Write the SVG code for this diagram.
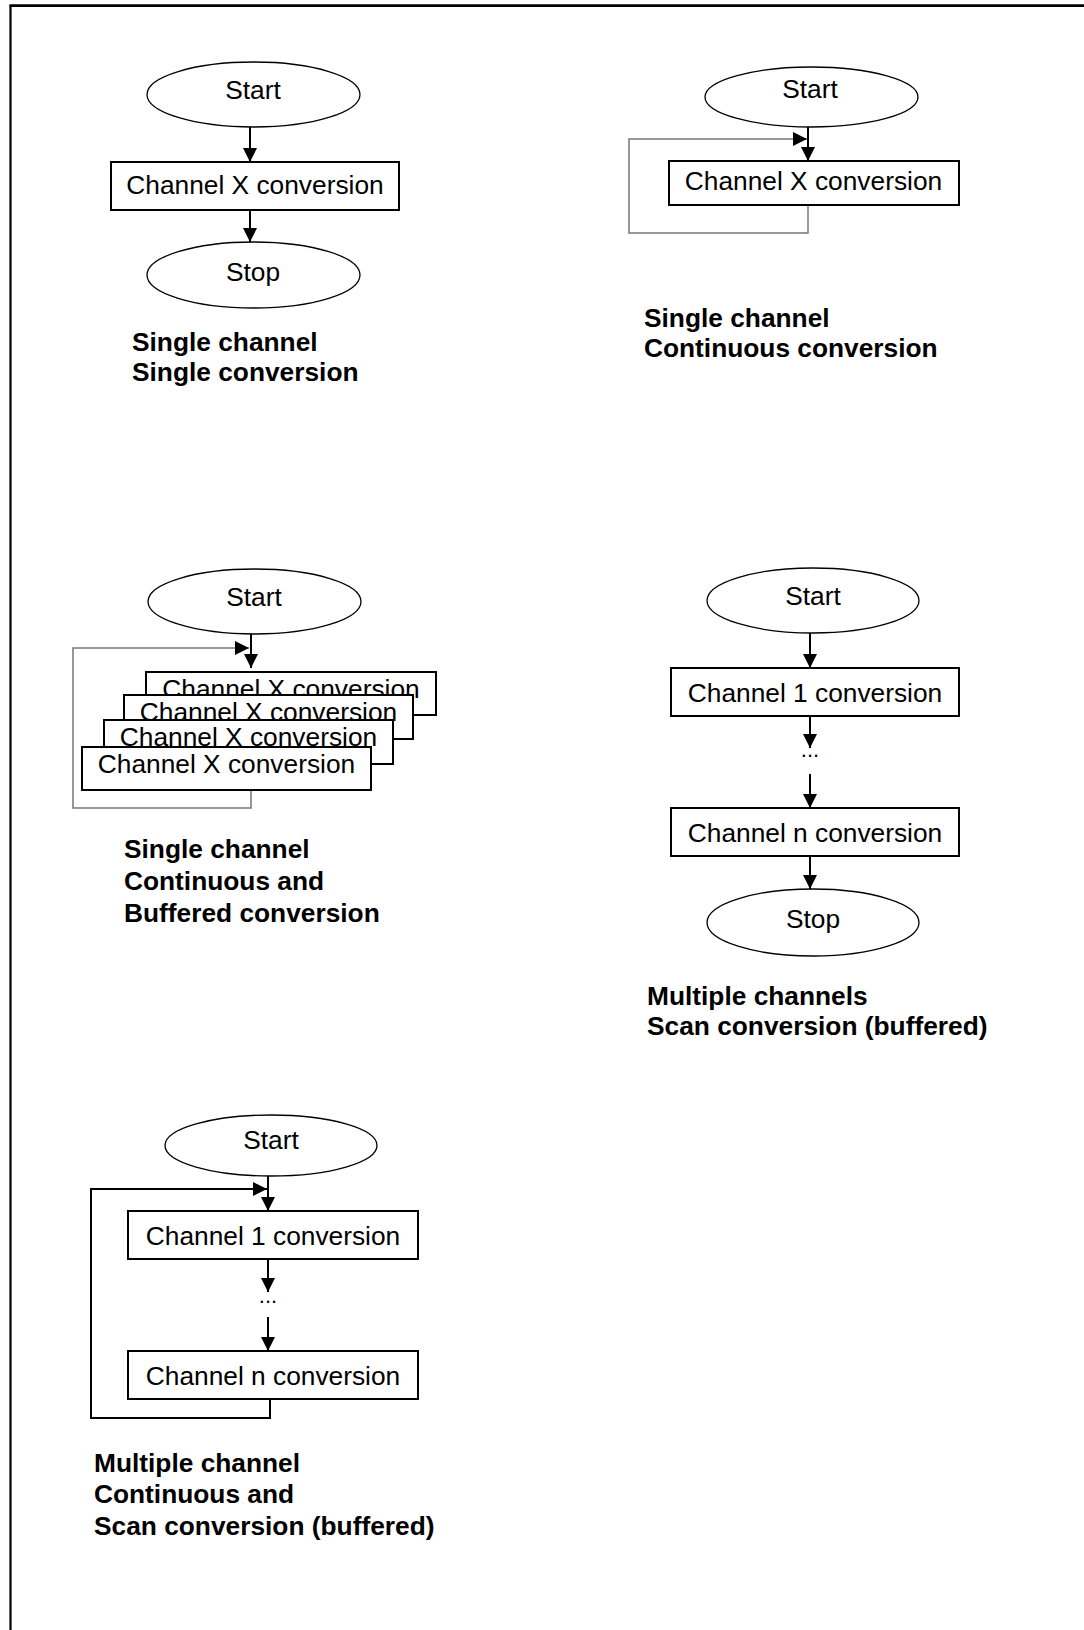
<svg xmlns="http://www.w3.org/2000/svg" width="1084" height="1630" viewBox="0 0 1084 1630">
<style>
.bg{fill:#fff}
.frame{stroke:#000;stroke-width:2.2;fill:none}
.ftop{stroke:#000;stroke-width:2.6;fill:none}
.term{fill:#fff;stroke:#000;stroke-width:1.3}
.proc{fill:#fff;stroke:#000;stroke-width:2}
.t{font-family:"Liberation Sans",Arial,sans-serif;font-size:26.3px;fill:#000;text-anchor:middle}
.dots{font-family:"Liberation Sans",Arial,sans-serif;font-size:22px;fill:#000;text-anchor:middle}
.lbl{font-family:"Liberation Sans",Arial,sans-serif;font-size:26.3px;font-weight:bold;fill:#000}
.c{stroke:#000;stroke-width:2;fill:none}
.loop{stroke:#777;stroke-width:1.5;fill:none}
.loopb{stroke:#000;stroke-width:2;fill:none}
</style>
<defs>
<marker id="ah" markerUnits="userSpaceOnUse" markerWidth="14" markerHeight="14" refX="14" refY="7" orient="auto">
<path d="M0,0 L14,7 L0,14 z" fill="#000"/>
</marker>
</defs>
<rect class="bg" x="0" y="0" width="1084" height="1630"/>
<path class="frame" d="M10.5,1630 V5.6"/>
<path class="ftop" d="M9.4,5.6 H1084"/>

<g id="connectors">
<line class="c" x1="250" y1="127" x2="250" y2="162" marker-end="url(#ah)"/>
<line class="c" x1="250" y1="210" x2="250" y2="242" marker-end="url(#ah)"/>

<line class="c" x1="808" y1="127" x2="808" y2="161" marker-end="url(#ah)"/>
<path class="loop" d="M808,205 V233 H629 V139 H807" marker-end="url(#ah)"/>

<line class="c" x1="251" y1="634" x2="251" y2="668" marker-end="url(#ah)"/>
<path class="loop" d="M251,790 V808 H73 V648 H249" marker-end="url(#ah)"/>

<line class="c" x1="810" y1="633" x2="810" y2="668" marker-end="url(#ah)"/>
<line class="c" x1="810" y1="716" x2="810" y2="748" marker-end="url(#ah)"/>
<line class="c" x1="810" y1="774" x2="810" y2="808" marker-end="url(#ah)"/>
<line class="c" x1="810" y1="856" x2="810" y2="889" marker-end="url(#ah)"/>

<line class="c" x1="268" y1="1176" x2="268" y2="1211" marker-end="url(#ah)"/>
<line class="c" x1="268" y1="1259" x2="268" y2="1292" marker-end="url(#ah)"/>
<line class="c" x1="268" y1="1317" x2="268" y2="1351" marker-end="url(#ah)"/>
<path class="loopb" d="M270,1399 V1418 H91 V1189 H267" marker-end="url(#ah)"/>
</g>

<!-- Diagram 1 -->
<g id="d1-start"><ellipse class="term" cx="253.5" cy="94.5" rx="106.5" ry="32.5"/><text class="t" x="253" y="98.5">Start</text></g>
<g id="d1-conv"><rect class="proc" x="111" y="162" width="288" height="48"/><text class="t" x="255" y="194">Channel X conversion</text></g>
<g id="d1-stop"><ellipse class="term" cx="253.5" cy="275" rx="106.5" ry="33"/><text class="t" x="253" y="281">Stop</text></g>
<g id="d1-label"><text class="lbl" x="132" y="351">Single channel</text><text class="lbl" x="132" y="381">Single conversion</text></g>

<!-- Diagram 2 -->
<g id="d2-start"><ellipse class="term" cx="811.5" cy="97" rx="106.5" ry="30"/><text class="t" x="810" y="98">Start</text></g>
<g id="d2-conv"><rect class="proc" x="669" y="161" width="290" height="44"/><text class="t" x="813.5" y="190">Channel X conversion</text></g>
<g id="d2-label"><text class="lbl" x="644" y="327">Single channel</text><text class="lbl" x="644" y="357">Continuous conversion</text></g>

<!-- Diagram 3 -->
<g id="d3-start"><ellipse class="term" cx="254.5" cy="601.5" rx="106.5" ry="32.5"/><text class="t" x="254" y="605.5">Start</text></g>
<g id="d3-conv1"><rect class="proc" x="146" y="672" width="290" height="43"/><text class="t" x="291" y="698">Channel X conversion</text></g>
<g id="d3-conv2"><rect class="proc" x="124" y="695" width="289" height="44"/><text class="t" x="268.5" y="721">Channel X conversion</text></g>
<g id="d3-conv3"><rect class="proc" x="104" y="720" width="289" height="44"/><text class="t" x="248.5" y="746">Channel X conversion</text></g>
<g id="d3-conv4"><rect class="proc" x="82" y="747" width="289" height="43"/><text class="t" x="226.5" y="773">Channel X conversion</text></g>
<g id="d3-label"><text class="lbl" x="124" y="858">Single channel</text><text class="lbl" x="124" y="890">Continuous and</text><text class="lbl" x="124" y="922">Buffered conversion</text></g>

<!-- Diagram 4 -->
<g id="d4-start"><ellipse class="term" cx="813" cy="600.5" rx="106" ry="32.5"/><text class="t" x="813" y="605">Start</text></g>
<g id="d4-conv1"><rect class="proc" x="671" y="668" width="288" height="48"/><text class="t" x="815" y="702">Channel 1 conversion</text></g>
<g id="d4-dots"><text class="dots" x="810" y="757">...</text></g>
<g id="d4-convn"><rect class="proc" x="671" y="808" width="288" height="48"/><text class="t" x="815" y="842">Channel n conversion</text></g>
<g id="d4-stop"><ellipse class="term" cx="813" cy="922.5" rx="106" ry="33.5"/><text class="t" x="813" y="928">Stop</text></g>
<g id="d4-label"><text class="lbl" x="647" y="1005">Multiple channels</text><text class="lbl" x="647" y="1035">Scan conversion (buffered)</text></g>

<!-- Diagram 5 -->
<g id="d5-start"><ellipse class="term" cx="271" cy="1145.5" rx="106" ry="30.5"/><text class="t" x="271" y="1149">Start</text></g>
<g id="d5-conv1"><rect class="proc" x="128" y="1211" width="290" height="48"/><text class="t" x="273" y="1245">Channel 1 conversion</text></g>
<g id="d5-dots"><text class="dots" x="268" y="1303">...</text></g>
<g id="d5-convn"><rect class="proc" x="128" y="1351" width="290" height="48"/><text class="t" x="273" y="1385">Channel n conversion</text></g>
<g id="d5-label"><text class="lbl" x="94" y="1472">Multiple channel</text><text class="lbl" x="94" y="1503">Continuous and</text><text class="lbl" x="94" y="1535">Scan conversion (buffered)</text></g>
</svg>
